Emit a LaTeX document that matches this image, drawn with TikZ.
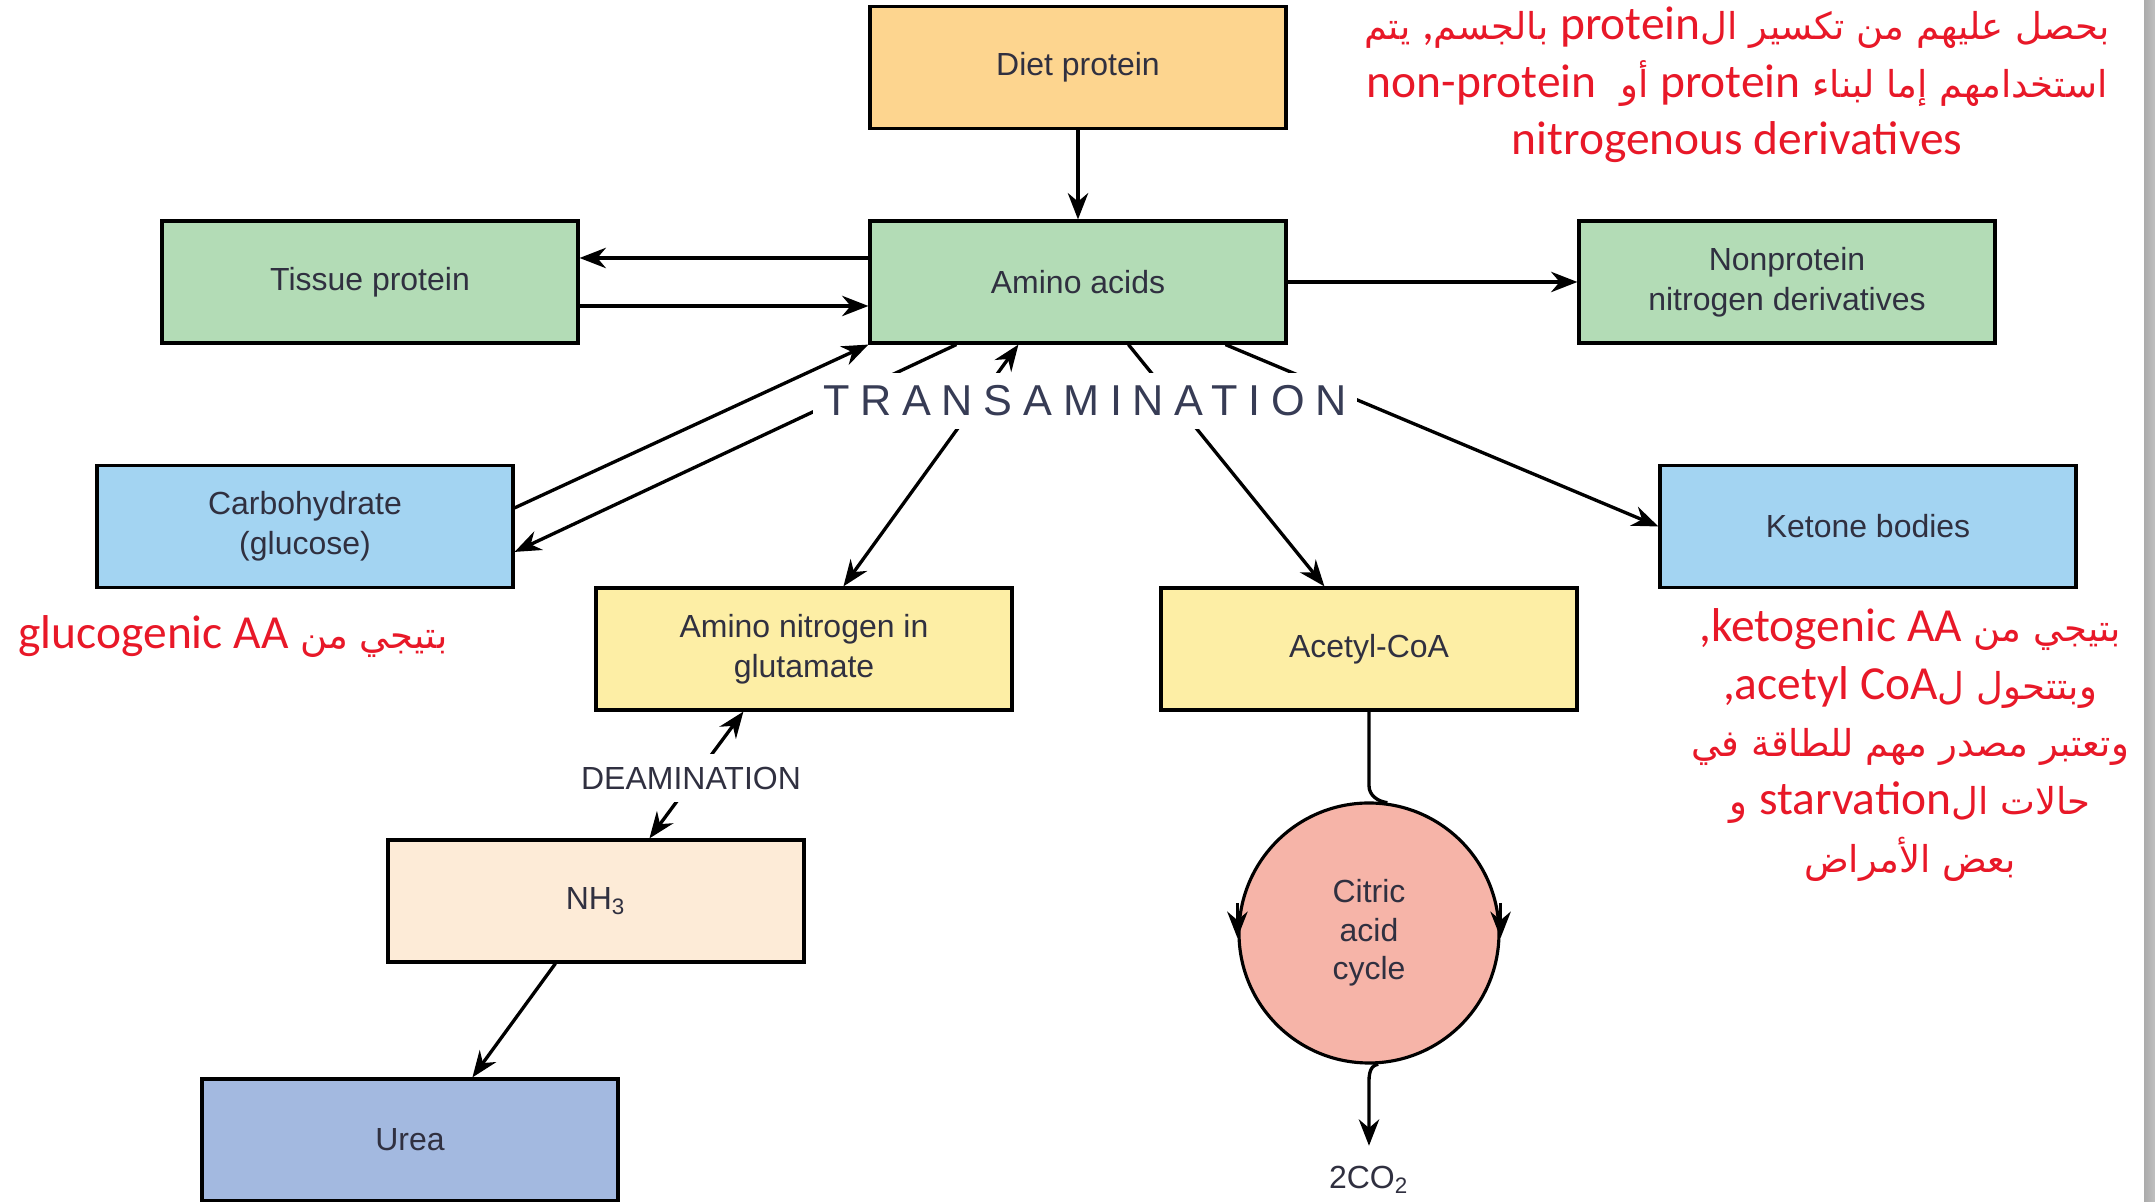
\documentclass[tikz,border=0pt]{standalone}
\usepackage{fontspec}
\setmainfont{Liberation Sans}
\newfontfamily\arabicfont[Script=Arabic,Scale=0.78]{DejaVu Sans}
\newfontfamily\latinfont{Carlito}
\newfontfamily\spacedfont[LetterSpace=25]{Liberation Sans}
\TeXXeTstate=1
\usetikzlibrary{arrows.meta,positioning,calc}
\definecolor{dietorange}{RGB}{253,213,143}
\definecolor{aagreen}{RGB}{179,220,182}
\definecolor{carbblue}{RGB}{163,212,242}
\definecolor{glutyellow}{RGB}{253,238,165}
\definecolor{nhpeach}{RGB}{253,235,215}
\definecolor{ureablue}{RGB}{163,185,224}
\definecolor{cycsalmon}{RGB}{246,180,168}
\definecolor{labelgray}{RGB}{48,48,64}
\definecolor{transgray}{RGB}{55,60,85}
\definecolor{notered}{RGB}{232,24,40}
\newcommand{\rtlline}[1]{\beginR\arabicfont #1\endR}
\newcommand{\enword}[1]{\beginL{\latinfont #1}\endL}
\begin{document}
\begin{tikzpicture}[
    box/.style={draw, line width=0.9pt, minimum width=4.16cm, minimum height=1.22cm, inner sep=0pt,
        align=center, text=labelgray, font=\fontsize{9.1}{11.4}\selectfont},
    arr/.style={line width=0.95pt, -{Stealth[length=7.5pt,width=5.8pt]}},
    twoway/.style={line width=0.95pt, {Stealth[length=7.5pt,width=5.8pt]}-{Stealth[length=7.5pt,width=5.8pt]}},
    note/.style={text=notered, align=center, font=\fontsize{13.5}{16.4}\selectfont},
    mask/.style={fill=white, inner xsep=0.1cm, inner ysep=0.13cm}]
                \fill [white] (0,0) rectangle (21.55,-12.02);
                \useasboundingbox (0,0) rectangle (21.55,-12.02);
                \fill [left color=gray!66, right color=gray!50] (21.44,0) rectangle (21.55,-12.02);

                \node[box, fill=dietorange] (diet) at (10.78,-0.675) {Diet protein};
                \node[box, fill=aagreen] (amino) at (10.78,-2.82) {Amino acids};
                \node[box, fill=aagreen] (tissue) at (3.70,-2.82) {Tissue protein};
                \node[box, fill=aagreen] (nonprot) at (17.87,-2.82) {Nonprotein\\nitrogen derivatives};
                \node[box, fill=carbblue] (carb) at (3.05,-5.265) {Carbohydrate\\(glucose)};
                \node[box, fill=carbblue] (ketone) at (18.68,-5.265) {Ketone bodies};
                \node[box, fill=glutyellow] (glut) at (8.04,-6.49) {Amino nitrogen in\\glutamate};
                \node[box, fill=glutyellow] (acetyl) at (13.69,-6.49) {Acetyl-CoA};
                \node[box, fill=nhpeach] (nh3) at (5.96,-9.01) {NH\textsubscript{3}};
                \node[box, fill=ureablue] (urea) at (4.10,-11.40) {Urea};
                \node[circle, draw, line width=0.9pt, fill=cycsalmon, minimum size=2.6cm, align=center,
                    text=labelgray, font=\fontsize{9.1}{11}\selectfont] (cyc) at (13.69,-9.33) {Citric\\acid\\cycle};
                \node[text=labelgray, font=\fontsize{9.1}{11}\selectfont, inner sep=0.2cm] (co2) at (13.69,-11.80) {2CO\textsubscript{2}};

                \draw [arr] (diet)--(amino);
                \draw [arr] ([yshift=0.24cm]amino.west)--([yshift=0.24cm]tissue.east);
                \draw [arr] ([yshift=-0.24cm]tissue.east)--([yshift=-0.24cm]amino.west);
                \draw [arr] (amino)--(nonprot);

                \draw [arr] ($(amino.south west)+(0.88,0)$)--($(carb.north east)+(0,-0.88)$);
                \draw [twoway] ($(glut.north west)+(2.49,0)$)--($(amino.south west)+(1.50,0)$);
                \draw [arr] ($(amino.south west)+(2.60,0)$)--($(acetyl.north west)+(1.65,0)$);
                \draw [arr] ($(amino.south west)+(3.57,0)$)--(ketone.west);
                \node[mask, text=transgray, font=\spacedfont\fontsize{12.3}{14}\selectfont] (trans) at (10.85,-4.01) {TRANSAMINATION};
                \draw [arr] ($(carb.north east)+(0,-0.44)$)--(amino.south west);

                \draw [twoway] ($(glut.south west)+(1.49,0)$)--($(nh3.north west)+(2.63,0)$);
                \node[mask, text=labelgray, font=\fontsize{9.1}{11}\selectfont] (deam) at (6.91,-7.78) {DEAMINATION};
                \draw [arr] ($(nh3.south west)+(1.69,0)$)--($(urea.north west)+(2.72,0)$);

                \draw [line width=0.95pt] (acetyl.south)--++(0,-0.74) to[out=-90,in=172] (cyc.82);
                \draw [arr] ([yshift=0.3cm]cyc.west)--([yshift=-0.05cm]cyc.west);
                \draw [arr] ([yshift=0.3cm]cyc.east)--([yshift=-0.05cm]cyc.east);
                \draw [arr] (cyc.-86) to[out=188,in=90] ($(cyc.south)+(0,-0.25)$)--(co2.north);

                \node[note] (topnote) at (17.37,-0.85) {\rtlline{بحصل عليهم من تكسير ال\enword{protein} بالجسم{\latinfont ,} يتم}\\
                    \rtlline{استخدامهم إما لبناء \enword{protein} أو\ \ \enword{non-protein}}\\
                    {\latinfont nitrogenous derivatives}};
                \node[note] (glucnote) at (2.33,-6.37) {\rtlline{بتيجي من \enword{glucogenic AA}}};
                \node[note] (ketonote) at (19.10,-7.45) {\rtlline{بتيجي من \enword{ketogenic AA}{\latinfont ,}}\\
                    \rtlline{وبتتحول ل\enword{acetyl CoA}{\latinfont ,}}\\
                    \rtlline{وتعتبر مصدر مهم للطاقة في}\\
                    \rtlline{حالات ال\enword{starvation} و}\\
                    \rtlline{بعض الأمراض}};
            \end{tikzpicture}
\end{document}
